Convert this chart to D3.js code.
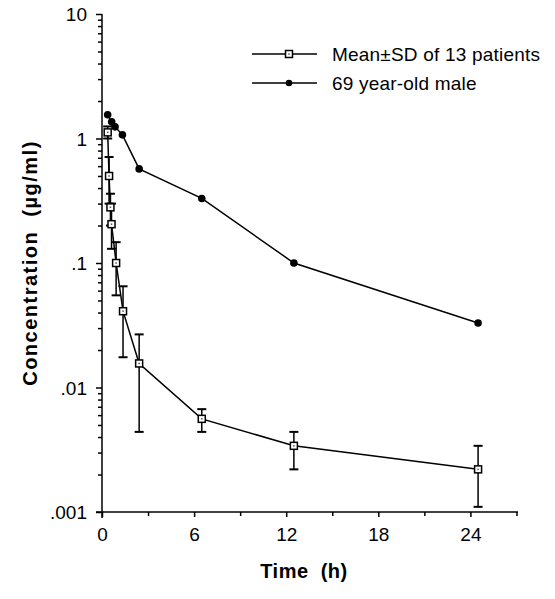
<!DOCTYPE html>
<html>
<head>
<meta charset="utf-8">
<script src="https://cdn.jsdelivr.net/npm/d3@7"></script>
<style>
  body { margin: 0; background: #fff; }
  text { font-family: "Liberation Sans", Arial, sans-serif; fill: #000; }
  .axis path, .axis line { stroke: #000; stroke-width: 1.5; }
  .axis text { font-size: 19px; }
</style>
</head>
<body>
<div id="chart"></div>
<script>
// set up chart

var width = 555,
  height = 599;

// mean ± SD of 13 patients
var meanTime = [0.37, 0.46, 0.55, 0.62, 0.92, 1.37, 2.42, 6.5, 12.5, 24.5];
var meanConc = [1.12, 0.50, 0.28, 0.205, 0.10, 0.041, 0.0156, 0.0056, 0.0034, 0.0022];
var meanHigh = [1.25, 0.71, 0.36, 0.30, 0.147, 0.065, 0.0267, 0.0067, 0.0044, 0.0034];
var meanLow  = [1.00, 0.30, 0.20, 0.13, 0.055, 0.0175, 0.0044, 0.0044, 0.0022, 0.0011];

// 69 year-old male
var maleTime = [0.37, 0.63, 0.85, 1.33, 2.42, 6.5, 12.5, 24.5];
var maleConc = [1.55, 1.36, 1.24, 1.07, 0.57, 0.33, 0.10, 0.033];

var xTicks = [0, 6, 12, 18, 24];
var xMinor = [3, 9, 15, 21, 27];
var yTicks = [0.001, 0.01, 0.1, 1, 10];
var yTickLabels = [".001", ".01", ".1", "1", "10"];
var legendLabels = ["Mean\u00b1SD of 13 patients", "69 year-old male"];

var x = d3.scaleLinear()
    .domain([0, 27.1])
    .range([102, 518]);

var y = d3.scaleLog()
    .domain([0.001, 10])
    .range([512, 14]);

var svg = d3.select("#chart").append("svg")
    .attr("width", width)
    .attr("height", height);

// minor y ticks 2..9 in each decade
var yMinor = [];
yTicks.slice(0, 4).forEach(function(d) {
  for (var k = 2; k <= 9; k++) yMinor.push(d * k);
});

// axes

svg.append("g")
  .attr("class", "axis")
  .attr("transform", "translate(102,0)")
  .call(d3.axisLeft(y).tickValues(yMinor).tickSize(4).tickFormat(""))
  .select(".domain").remove();

svg.append("g")
  .attr("class", "axis")
  .attr("transform", "translate(102,0)")
  .call(d3.axisLeft(y).tickValues(yTicks).tickSize(6).tickSizeOuter(0).tickPadding(9)
    .tickFormat(function(d, i) { return yTickLabels[i]; }))
  .selectAll("text").attr("dy", "0.36em");

svg.select(".axis .domain").attr("d", "M0,14V518");

svg.append("g")
  .attr("class", "axis")
  .attr("transform", "translate(0,512)")
  .call(d3.axisBottom(x).tickValues(xMinor).tickSize(4).tickFormat(""))
  .select(".domain").remove();

svg.append("g")
  .attr("class", "axis")
  .attr("transform", "translate(0,512)")
  .call(d3.axisBottom(x).tickValues(xTicks).tickSize(5).tickSizeOuter(0).tickPadding(11))
  .select(".domain").attr("d", "M96,0H518");

// axis titles

svg.append("text")
  .attr("x", 304)
  .attr("y", 578)
  .attr("text-anchor", "middle")
  .style("font-size", "20px")
  .style("font-weight", "bold")
  .style("letter-spacing", "0.5px")
  .style("white-space", "pre")
  .text("Time  (h)");

svg.append("text")
  .attr("transform", "translate(37,263) rotate(-90)")
  .attr("text-anchor", "middle")
  .style("font-size", "20px")
  .style("font-weight", "bold")
  .style("letter-spacing", "1.5px")
  .style("white-space", "pre")
  .text("Concentration  (\u00b5g/ml)");

// error bars for the mean series

var bars = svg.append("g").attr("class", "errorbars")
  .selectAll("g")
  .data(meanTime)
  .enter().append("g");

bars.append("line")
  .attr("x1", function(d) { return x(d); })
  .attr("x2", function(d) { return x(d); })
  .attr("y1", function(d, i) { return y(meanHigh[i]); })
  .attr("y2", function(d, i) { return y(meanLow[i]); })
  .attr("stroke", "#000").attr("stroke-width", 1.5);

bars.selectAll("line.cap")
  .data(function(d, i) { return [[d, meanHigh[i]], [d, meanLow[i]]]; })
  .enter().append("line")
  .attr("class", "cap")
  .attr("x1", function(d) { return x(d[0]) - 4.5; })
  .attr("x2", function(d) { return x(d[0]) + 4.5; })
  .attr("y1", function(d) { return y(d[1]); })
  .attr("y2", function(d) { return y(d[1]); })
  .attr("stroke", "#000").attr("stroke-width", 2);

// lines

var line = d3.line()
  .x(function(d) { return x(d[0]); })
  .y(function(d) { return y(d[1]); });

svg.append("path")
  .datum(d3.zip(maleTime, maleConc))
  .attr("d", line)
  .attr("fill", "none").attr("stroke", "#000").attr("stroke-width", 1.5);

svg.append("path")
  .datum(d3.zip(meanTime, meanConc))
  .attr("d", line)
  .attr("fill", "none").attr("stroke", "#000").attr("stroke-width", 1.5);

// markers

function square(g, cx, cy) {
  g.append("rect")
    .attr("x", cx - 3.5).attr("y", cy - 3.5)
    .attr("width", 7).attr("height", 7)
    .attr("fill", "#fff").attr("stroke", "#000").attr("stroke-width", 1.5);
  g.append("rect")
    .attr("x", cx - 0.75).attr("y", cy - 0.75)
    .attr("width", 1.5).attr("height", 1.5)
    .attr("fill", "#555");
}

svg.append("g")
  .selectAll("circle")
  .data(maleTime)
  .enter().append("circle")
  .attr("cx", function(d) { return x(d); })
  .attr("cy", function(d, i) { return y(maleConc[i]); })
  .attr("r", 3.8)
  .attr("fill", "#000");

var sq = svg.append("g");
meanTime.forEach(function(d, i) {
  square(sq, x(d), y(meanConc[i]));
});

// legend

var legend = svg.append("g").attr("class", "legend");
var ly = [54, 83];

legendLabels.forEach(function(lbl, i) {
  legend.append("line")
    .attr("x1", 252).attr("x2", 317)
    .attr("y1", ly[i]).attr("y2", ly[i])
    .attr("stroke", "#000").attr("stroke-width", 1.5);
  if (i == 0) {
    square(legend, 289, ly[i]);
  } else {
    legend.append("circle")
      .attr("cx", 289).attr("cy", ly[i]).attr("r", 3.3).attr("fill", "#000");
  }
  legend.append("text")
    .attr("x", 332)
    .attr("y", ly[i] + 6.5)
    .style("font-size", "19px")
    .style("letter-spacing", "0.2px")
    .text(lbl);
});
</script>
</body>
</html>
